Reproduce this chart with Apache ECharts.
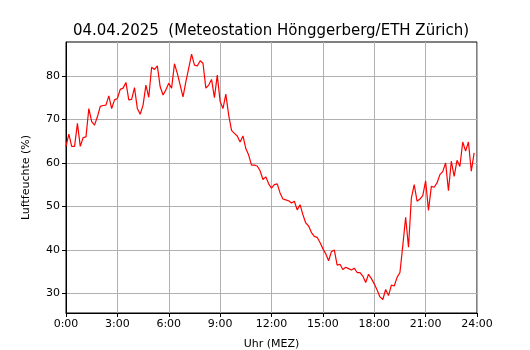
<!DOCTYPE html>
<html>
<head>
    <meta charset="utf-8">
    <title>Luftfeuchte Hönggerberg</title>
    <script src="https://cdn.jsdelivr.net/npm/echarts@6/dist/echarts.min.js"></script>
</head>
<body style="margin:0">
    <div id="main" style="width:530px;height:350px;"></div>
    <script type="text/javascript">
        // Messwerte alle 10 Minuten, 0:00 bis 23:50
        var stepMinutes = 10;
        var humidity = [
            63.8, 66.6, 63.8, 63.8, 69.1, 63.8, 65.8, 66.0, 72.5, 69.5, 68.7, 70.6, 73.0, 73.2, 73.3, 75.4,
            72.5, 74.5, 74.8, 76.9, 77.2, 78.5, 74.5, 74.6, 77.3,
            72.5, 71.2, 73.3, 77.9, 75.1, 82.0, 81.5, 82.3, 77.5, 75.6, 76.8, 78.3, 77.2, 82.8, 80.6,
            77.9, 75.2, 78.7, 81.8, 85.0, 82.5, 82.3, 83.5,
            82.9, 77.2, 77.9, 79.2, 75.0, 80.2, 74.1, 72.5, 75.8, 71.0, 67.5, 66.8, 66.2, 64.8, 66.2,
            63.3, 61.8, 59.5, 59.5, 59.3, 58.2, 56.2, 56.8,
            55.2, 54.2, 55.0, 55.2, 53.1, 51.7, 51.5, 51.3, 50.8, 51.2, 49.2, 50.4, 48.1, 46.2, 45.5,
            44.0, 43.1, 42.9, 41.7, 40.3, 39.1, 37.5, 39.6, 40.0, 36.5,
            36.7, 35.5, 36.0, 35.7, 35.4, 35.8, 34.8, 34.8, 34.0, 32.5, 34.4, 33.4, 32.2, 30.8, 29.2,
            28.6, 30.9, 29.5, 31.9, 31.7, 33.7, 34.8,
            41.0, 47.5, 40.6, 51.9, 55.0, 51.2, 51.7, 52.5, 55.9, 49.1, 54.6, 54.4, 55.4, 57.3, 58.0,
            60.0, 53.6, 60.4, 56.9, 60.6, 59.2, 64.8, 62.7, 64.8, 58.1, 62.3
        ];
        var xTickLabels = ['0:00', '3:00', '6:00', '9:00', '12:00', '15:00', '18:00', '21:00', '24:00'];
        var yTicks = [30, 40, 50, 60, 70, 80];

        var points = humidity.map(function (v, i) {
            return [i * stepMinutes / 60, v];
        });

        var myChart = echarts.init(document.getElementById('main'));
        var font = 'DejaVu Sans';

        var option = {
            backgroundColor: '#fff',
            animation: false,
            title: {
                text: '04.04.2025  (Meteostation Hönggerberg/ETH Zürich)',
                left: 266,
                textAlign: 'center',
                top: 19,
                textStyle: { fontFamily: font, fontSize: 15, fontWeight: 'normal', color: '#000' }
            },
            grid: {
                left: 66, right: 53, top: 42, bottom: 37,
                outerBoundsMode: 'none',
                containLabel: false,
                show: true, borderColor: '#000', borderWidth: 1, backgroundColor: 'transparent'
            },
            xAxis: {
                type: 'value',
                min: 0, max: 24, interval: 3,
                name: 'Uhr (MEZ)',
                nameLocation: 'middle',
                nameGap: 26,
                nameTextStyle: { fontFamily: font, fontSize: 11, color: '#000' },
                axisLine: { show: true, lineStyle: { color: '#000', width: 1 } },
                axisTick: { show: true, length: 4, lineStyle: { color: '#000' } },
                axisLabel: {
                    fontFamily: font, fontSize: 11, color: '#000', margin: 6,
                    formatter: function (v) { return xTickLabels[Math.round(v / 3)]; }
                },
                splitLine: { show: true, lineStyle: { color: '#b0b0b0', width: 1 } }
            },
            yAxis: {
                type: 'value',
                min: 25.5, max: 87.8, interval: 10,
                name: 'Luftfeuchte (%)',
                nameLocation: 'middle',
                nameGap: 34,
                nameTextStyle: { fontFamily: font, fontSize: 11, color: '#000' },
                axisLine: { show: true, lineStyle: { color: '#000', width: 1 } },
                axisTick: { show: true, length: 4, lineStyle: { color: '#000' },
                    customValues: yTicks },
                axisLabel: {
                    fontFamily: font, fontSize: 11, color: '#000', margin: 6,
                    customValues: yTicks
                },
                splitLine: { show: true, lineStyle: { color: '#b0b0b0', width: 1 } }
            },
            series: [{
                type: 'line',
                data: points,
                showSymbol: false,
                lineStyle: { color: '#ff0000', width: 1.2 },
                itemStyle: { color: '#ff0000' }
            }]
        };
        myChart.setOption(option);
    </script>
</body>
</html>
